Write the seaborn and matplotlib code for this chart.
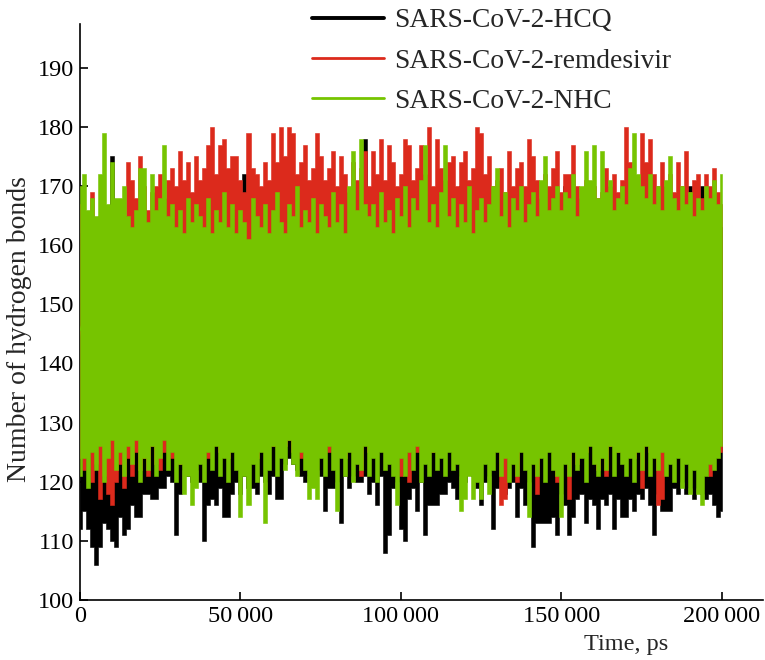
import numpy as np
import pandas as pd
import matplotlib
matplotlib.use("Agg")
import matplotlib.pyplot as plt
import seaborn as sns

# -----------------------------
# Data (upper and lower envelope every 1250 ps)
# -----------------------------
time_ps = np.arange(0, 200001, 1250)

series_names = ["SARS-CoV-2-HCQ", "SARS-CoV-2-remdesivir", "SARS-CoV-2-NHC"]
series_colors = ["#000000", "#dc2a1c", "#76c400"]

hcq_high = [
    162, 165, 160, 163, 158, 164, 161, 166, 175, 160,
    163, 159, 165, 161, 164, 160, 166, 162, 158, 164,
    161, 165, 159, 163, 160, 164, 162, 158, 165, 161,
    163, 160, 166, 159, 162, 164, 160, 165, 161, 163,
    159, 172, 162, 160, 164, 161, 165, 159, 163, 160,
    164, 161, 158, 165, 162, 160, 164, 161, 166, 159,
    162, 165, 160, 163, 159, 164, 161, 166, 160, 163,
    161, 178, 162, 160, 165, 161, 163, 159, 164, 162,
    160, 165, 161, 163, 159, 166, 162, 160, 164, 161,
    163, 159, 165, 161, 162, 170, 160, 164, 161, 163,
    159, 164, 162, 160, 165, 161, 163, 159, 166, 162,
    160, 164, 161, 163, 159, 165, 162, 160, 164, 161,
    163, 170, 171, 160, 164, 162, 159, 165, 161, 163,
    160, 164, 162, 159, 165, 161, 163, 160, 164, 162,
    161, 171, 163, 160, 164, 162, 159, 165, 161, 163,
    160, 164, 170, 161, 163, 170, 162, 160, 164, 161,
    163,
]
hcq_low = [
    112, 115, 112, 109, 106, 109, 113, 112, 110, 109,
    114, 111, 112, 116, 114, 114, 118, 118, 117, 117,
    119, 119, 121, 120, 111, 118, 122, 121, 120, 122,
    120, 110, 116, 117, 116, 119, 114, 114, 118, 120,
    118, 121, 119, 119, 118, 121, 120, 118, 121, 117,
    117, 123, 124, 123, 122, 121, 120, 121, 120, 122,
    121, 115, 119, 119, 120, 113, 121, 119, 121, 120,
    120, 121, 118, 120, 116, 121, 108, 111, 119, 120,
    112, 110, 117, 119, 115, 120, 111, 116, 116, 116,
    118, 118, 120, 119, 117, 121, 120, 122, 121, 119,
    116, 120, 121, 112, 119, 120, 118, 119, 120, 114,
    119, 116, 120, 109, 113, 113, 113, 113, 114, 111,
    118, 116, 111, 114, 117, 118, 113, 117, 116, 112,
    117, 116, 118, 112, 117, 114, 114, 117, 115, 118,
    117, 119, 116, 111, 118, 115, 115, 115, 119, 118,
    120, 118, 119, 117, 119, 118, 117, 118, 116, 114,
    115,
]

remdesivir_high = [
    167, 164, 162, 169, 163, 165, 160, 166, 162, 164,
    163, 165, 174, 171, 168, 175, 170, 166, 169, 170,
    172, 168, 171, 173, 170, 176, 171, 174, 169, 175,
    171, 173, 177, 180, 172, 177, 178, 173, 175, 175,
    171, 169, 179, 173, 172, 170, 174, 171, 179, 174,
    180, 175, 180, 179, 172, 174, 177, 171, 173, 179,
    175, 171, 173, 176, 170, 175, 172, 169, 174, 171,
    173, 176, 170, 176, 172, 178, 171, 177, 174, 170,
    172, 178, 177, 171, 173, 177, 172, 180, 170, 178,
    173, 171, 174, 175, 170, 174, 176, 171, 173, 180,
    179, 172, 175, 170, 171, 173, 169, 176, 170, 173,
    174, 170, 178, 175, 171, 168, 172, 170, 173, 176,
    169, 172, 172, 177, 170, 168, 171, 167, 170, 168,
    169, 173, 170, 172, 169, 171, 180, 174, 171, 170,
    179, 174, 178, 172, 170, 174, 170, 172, 169, 174,
    170, 176, 169, 171, 172, 168, 172, 170, 173, 169,
    167,
]
remdesivir_low = [
    124, 122, 125, 120, 123, 117, 121, 118, 116, 120,
    123, 119, 124, 121, 125, 122, 124, 121, 126, 123,
    122, 125, 127, 124, 126, 123, 127, 125, 128, 126,
    125, 127, 124, 126, 128, 125, 127, 124, 126, 128,
    125, 127, 126, 128, 124, 127, 125, 128, 126, 127,
    128, 126, 127, 125, 128, 124, 126, 127, 125, 128,
    126, 128, 125, 127, 126, 128, 124, 127, 125, 126,
    121, 127, 125, 128, 126, 127, 125, 128, 126, 127,
    121, 126, 120, 127, 125, 128, 126, 127, 125, 126,
    127, 125, 128, 126, 127, 125, 128, 126, 127, 125,
    126, 128, 125, 127, 126, 116, 117, 127, 125, 120,
    127, 125, 128, 126, 118, 127, 125, 126, 128, 120,
    126, 127, 117, 126, 123, 127, 125, 128, 126, 122,
    127, 121, 126, 128, 125, 127, 126, 128, 124, 127,
    119, 127, 125, 128, 116, 117, 127, 125, 128, 126,
    127, 125, 128, 126, 127, 125, 128, 121, 126, 127,
    125,
]

nhc_high = [
    170, 172, 166, 168, 165, 172, 179, 167, 174, 168,
    168, 170, 165, 163, 166, 173, 173, 164, 172, 166,
    168, 177, 165, 167, 163, 166, 162, 168, 164, 167,
    165, 163, 168, 162, 166, 164, 169, 163, 167, 162,
    166, 164, 161, 168, 165, 163, 167, 162, 166, 169,
    164, 162, 167, 165, 170, 163, 166, 164, 168, 162,
    167, 165, 163, 169, 164, 167, 162, 170, 176, 166,
    178, 167, 165, 167, 163, 169, 164, 166, 162, 168,
    165, 170, 163, 168, 166, 171, 177, 164, 167, 163,
    169, 177, 165, 168, 163, 167, 164, 170, 162, 166,
    168, 164, 167, 170, 173, 165, 169, 163, 168, 166,
    170, 164, 167, 169, 165, 171, 175, 166, 168, 170,
    166, 169, 168, 172, 165, 170, 176, 171, 177, 168,
    176, 169, 171, 166, 168, 170, 167, 173, 179, 172,
    170, 168, 172, 167, 170, 166, 171, 175, 168, 166,
    170, 167, 169, 165, 168, 166, 170, 168, 171, 167,
    172,
]
nhc_low = [
    121, 124, 119, 125, 122, 126, 120, 124, 127, 122,
    125, 121, 126, 123, 127, 120, 124, 122, 126, 121,
    124, 127, 122, 125, 120, 123, 118, 121, 116, 119,
    123, 120, 125, 122, 126, 121, 124, 120, 125, 122,
    114, 121, 116, 123, 120, 125, 113, 122, 126, 121,
    124, 122, 127, 123, 121, 125, 122, 117, 119, 117,
    124, 121, 126, 122, 115, 124, 121, 125, 120, 123,
    122, 126, 121, 124, 120, 125, 122, 123, 121, 116,
    124, 121, 125, 122, 126, 120, 123, 121, 125, 122,
    124, 121, 125, 122, 123, 115, 117, 121, 117, 120,
    117, 123, 118, 122, 125, 121, 124, 120, 123, 121,
    125, 122, 114, 123, 121, 124, 120, 125, 122, 121,
    114, 123, 121, 125, 122, 124, 120, 126, 123, 121,
    124, 122, 126, 121, 125, 123, 121, 124, 120, 125,
    122, 126, 121, 124, 122, 125, 121, 123, 120, 124,
    119, 123, 118, 122, 118, 116, 121, 123, 122, 124,
    126,
]

xtick_values = [0, 50000, 100000, 150000, 200000]
xtick_labels = ["0", "50\u2009000", "100\u2009000", "150\u2009000", "200\u2009000"]
ytick_values = [100, 110, 120, 130, 140, 150, 160, 170, 180, 190]

highs = [hcq_high, remdesivir_high, nhc_high]
lows = [hcq_low, remdesivir_low, nhc_low]

# -----------------------------
# Plot
# -----------------------------
sns.set_style("ticks")
plt.rcParams["font.family"] = ["Liberation Serif", "DejaVu Serif"]

fig = plt.figure(figsize=(7.65, 6.6), dpi=100)
ax = fig.add_axes([80 / 765, 60 / 660, 683 / 765, 576 / 660])

for k, name in enumerate(series_names):
    # two rows per time point (upper and lower value); the 0-100 percentile band
    # spans them, so each run is drawn as a solid band of vertical spikes
    df = pd.DataFrame({
        "time": np.concatenate([time_ps, time_ps]),
        "hbonds": np.concatenate([highs[k], lows[k]]),
    })
    z = 2 * k + 1
    sns.lineplot(data=df, x="time", y="hbonds", estimator="mean",
                 errorbar=("pi", 100), color=series_colors[k], lw=0.8,
                 label=name, zorder=z, ax=ax,
                 err_kws={"alpha": 1, "linewidth": 0.4, "step": "mid",
                          "edgecolor": series_colors[k], "zorder": z})

ax.set_xlim(0, 212800)
ax.set_ylim(100, 197.4)
ax.set_xticks(xtick_values)
ax.set_xticklabels(xtick_labels)
ax.set_yticks(ytick_values)
sns.despine(ax=ax)
for s in ["left", "bottom"]:
    ax.spines[s].set_linewidth(1.2)
    ax.spines[s].set_color("black")
ax.tick_params(direction="in", length=6, width=1.2, labelsize=17.5,
               colors="black", pad=4)

ax.set_xlabel("Time, ps", fontsize=17.5)
ax.xaxis.set_label_coords(0.80, -0.078)
ax.xaxis.label.set_va("center")
ax.set_ylabel("Number of hydrogen bonds", fontsize=20)
ax.yaxis.set_label_coords(-0.088, 0.47)
ax.yaxis.label.set_va("center")

leg = ax.legend(loc="upper left", bbox_to_anchor=(312 / 765, 0.988),
                bbox_transform=fig.transFigure, frameon=False, fontsize=19.8,
                handlelength=2.6, handletextpad=0.4, labelspacing=0.55,
                borderpad=0, borderaxespad=0)
for line, w in zip(leg.get_lines(), [2.8, 2.0, 2.0]):
    line.set_linewidth(w)

fig.savefig("out.png", dpi=100)
